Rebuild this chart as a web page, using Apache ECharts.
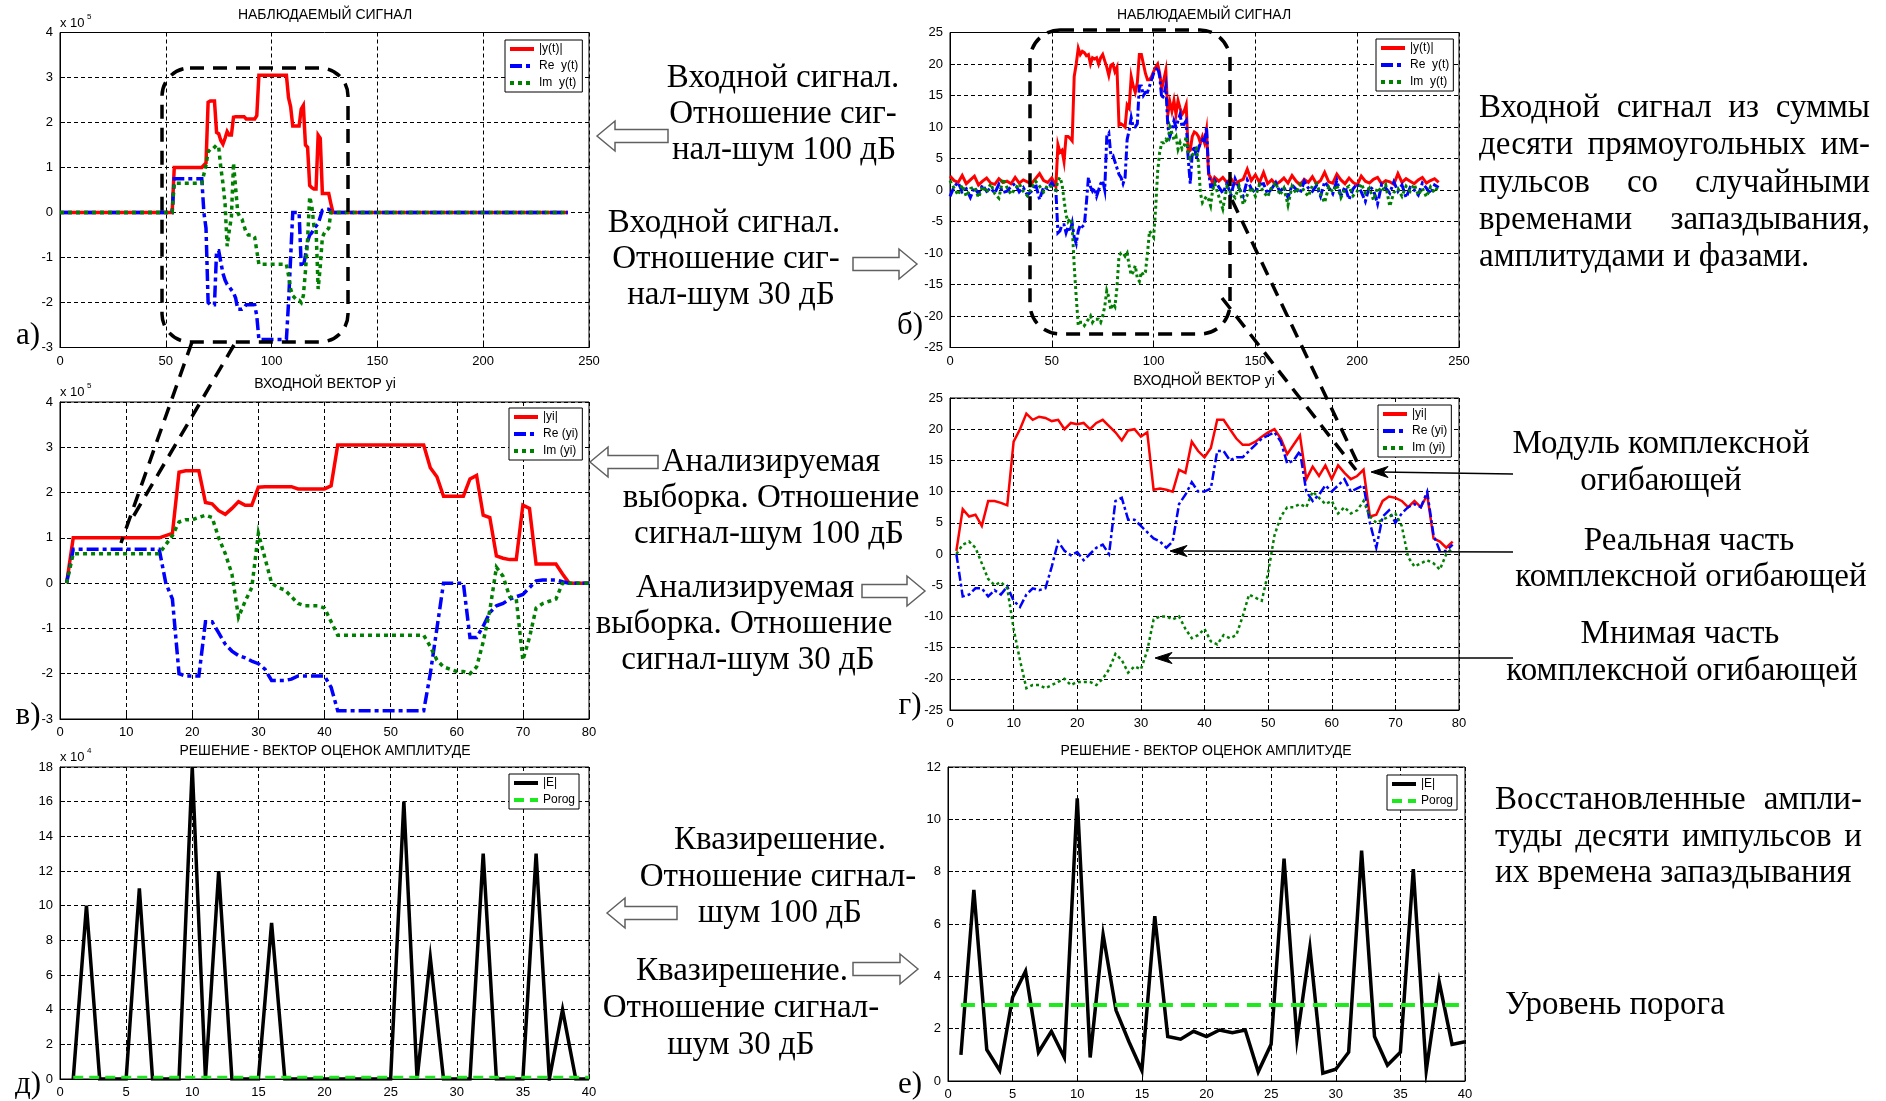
<!DOCTYPE html>
<html>
<head>
<meta charset="utf-8">
<script src="https://cdn.jsdelivr.net/npm/echarts/dist/echarts.min.js"></script>
<style>
  html, body { margin: 0; padding: 0; background: #fff; }
  #main { width: 1886px; height: 1101px; }
</style>
</head>
<body>
<div id="main"></div>
<script>
// ---------------- data ----------------
// Analysed window, SNR 100 dB (units of 1e5), samples 1..80
const absY100 = [0, 1.0, 1, 1, 1, 1, 1, 1, 1, 1, 1, 1, 1, 1, 1, 1.05, 1.1, 2.45, 2.48, 2.48,
  2.48, 1.78, 1.75, 1.6, 1.52, 1.65, 1.8, 1.72, 1.72, 2.12, 2.13, 2.13, 2.13, 2.13, 2.13, 2.08, 2.08, 2.08, 2.08, 2.08,
  2.15, 3.05, 3.05, 3.05, 3.05, 3.05, 3.05, 3.05, 3.05, 3.05, 3.05, 3.05, 3.05, 3.05, 3.05, 2.55, 2.35, 1.92, 1.92, 1.92,
  1.92, 2.3, 2.38, 1.5, 1.45, 0.6, 0.55, 0.52, 0.52, 1.72, 1.65, 0.42, 0.42, 0.42, 0.42, 0.2, 0, 0, 0, 0];
const reY100 = [0, 0.75, 0.75, 0.75, 0.75, 0.75, 0.75, 0.75, 0.75, 0.75, 0.75, 0.75, 0.75, 0.75, 0.75, 0.0, -0.35, -2.0, -2.05, -2.05,
  -2.05, -0.85, -0.85, -1.1, -1.35, -1.5, -1.6, -1.65, -1.72, -1.78, -1.9, -2.15, -2.15, -2.15, -2.12, -2.05, -2.05, -2.05, -2.05, -2.05,
  -2.3, -2.82, -2.82, -2.82, -2.82, -2.82, -2.82, -2.82, -2.82, -2.82, -2.82, -2.82, -2.82, -2.82, -2.82, -2.0, -1.0, 0, 0, 0,
  0, -1.2, -1.2, -0.95, -0.65, -0.5, -0.45, -0.35, -0.3, -0.25, -0.1, 0.05, 0.07, 0.07, 0.07, 0.03, 0, 0, 0, 0];
const imY100 = [0, 0.65, 0.65, 0.65, 0.65, 0.65, 0.65, 0.65, 0.65, 0.65, 0.65, 0.65, 0.65, 0.65, 0.65, 0.85, 1.05, 1.35, 1.4, 1.4,
  1.45, 1.5, 1.45, 1.0, 0.65, 0.2, -0.75, -0.4, -0.1, 1.1, 0.55, 0.0, -0.1, -0.15, -0.3, -0.45, -0.5, -0.5, -0.5, -0.55,
  -0.85, -1.15, -1.15, -1.15, -1.15, -1.15, -1.15, -1.15, -1.15, -1.15, -1.15, -1.15, -1.15, -1.15, -1.15, -1.4, -1.7, -1.85, -1.9, -1.95,
  -1.95, -2.0, -1.85, -1.3, -0.6, 0.35, 0.15, -0.3, -0.35, -1.7, -1.2, -0.55, -0.45, -0.4, -0.35, 0, 0, 0, 0, 0];

// Analysed window, SNR 30 dB, samples 1..79
const absY30 = [0.5, 7.2, 6.0, 6.3, 4.5, 8.5, 8.5, 8.2, 7.8, 18, 20, 22.5, 21.5, 22, 21.8, 21.3, 21.5, 20, 21, 20.8,
  21, 20, 21, 21.5, 20.5, 19.5, 18.2, 19.8, 20, 18.8, 19.5, 10.3, 10.5, 10.3, 10, 13.5, 13, 18, 16.5, 15.5,
  17, 21.5, 21.5, 20, 18.5, 17.5, 17.5, 18, 18.8, 19.5, 20, 18.5, 16, 17.5, 19, 12, 14, 12.5, 14.2, 12,
  14.2, 13, 12, 12.5, 13.5, 6, 6.3, 8.5, 9.2, 9, 8.5, 7.5, 8.5, 7.5, 9.5, 2.5, 2, 1, 2];
const reY30 = [0, -6.8, -6.5, -5.5, -5.5, -6.8, -5.8, -6.5, -5.2, -7.5, -8.5, -6.5, -5.5, -5.8, -5.5, -2, 2, 0.5, -0.2, 0.3,
  -1, 0, 1, 1.5, 0, 8.5, 9, 5.5, 5.5, 4.5, 3.5, 2.5, 2, 1, 2, 8, 9.5, 11.5, 10, 10,
  10.5, 16.5, 16.5, 15, 15.5, 15.5, 16.5, 17.5, 18.5, 19, 19.5, 18, 14.5, 15, 16.5, 10, 8.5, 9.5, 11, 10,
  11, 12, 10, 10.5, 11, 5, 1, 6, 7, 5, 6.5, 7.5, 8, 7.5, 10, 3, 0.5, 0.5, 1.5];
const imY30 = [0, 1.5, 2, 1, -1.5, -4, -5, -4.5, -5.5, -12, -17, -21.5, -21, -21, -21.5, -21, -20.5, -20, -21, -20.5,
  -20.5, -20.5, -21, -20, -18.5, -16, -17, -19, -18, -18.5, -15.5, -10.5, -10, -10, -10.5, -10, -12, -13.5, -13, -12,
  -14, -14.5, -13, -13.5, -13, -10, -6.5, -7, -7.5, -3, 3, 6, 7.5, 7.5, 8, 7.5, 10, 9, 8, 8.5,
  6.5, 7.5, 6.5, 7, 8.5, 6, 5, 5.5, 6, 6.5, 4.5, -0.5, -2, -1.5, -1, -1.5, -2.5, 0, 1];

// Observation interval and where the analysed window sits in it
const OBS_START = 0;
const OBS_END = 240;
const QUIET_LEVEL = 0;
const WIN_START_100 = 52;
const WIN_START_30 = 51;

// Noise of the 30 dB observation outside the window (every 2nd sample)
const NOISE_STEP = 2;
const NOISE_PRE_T0 = 0;
const absNoisePre = [2.2, 1.5, 1.2, 2.3, 1.0, 1.6, 2.2, 0.8, 1.4, 1.9, 1.1, 0.9, 1.8, 1.2, 1.4, 1.0, 2.0, 1.1, 1.6, 1.3, 1.0, 1.8, 2.6, 1.5, 1.2, 1.9];
const reNoisePre = [-1.0, 0.5, 1.2, -0.3, 0.2, -1.2, 0.4, -0.6, 0.8, -0.2, 0.3, -0.5, 0.9, -0.4, -0.2, 0.6, 1.0, -0.3, 0.4, -0.8, -0.2, 1.0, -1.5, 0.5, 0.2, 1.2];
const imNoisePre = [1.5, 0.3, -0.8, 0.8, -1.0, 0.2, 0.5, -1.2, 0.6, -0.4, 1.0, -0.6, -1.3, 1.8, 0.4, -0.7, 0.2, 1.0, -0.2, -0.9, 0.3, 1.4, 0.6, -0.3, 0.8, 0.5];
const NOISE_POST_T0 = 132;
const absNoisePost = [1.4, 2.0, 1.2, 1.8, 1.0, 1.4, 1.7, 3.3, 1.5, 2.4, 1.2, 2.8, 1.0, 1.6, 0.9, 1.3, 1.9, 1.1, 2.3, 1.4,
  0.8, 1.7, 1.2, 2.1, 1.0, 1.5, 2.8, 1.3, 1.1, 2.5, 1.6, 1.0, 1.9, 1.2, 0.8, 2.2, 1.4, 1.1, 1.7, 2.0,
  1.0, 1.5, 1.3, 0.9, 2.6, 1.2, 1.8, 1.4, 1.0, 1.6, 2.0, 1.1, 1.5, 1.8, 1.2];
const reNoisePost = [0.5, -0.5, 1.0, -0.8, 1.8, 0.3, -1.0, 1.6, 0.2, -0.4, 0.9, 1.0, -0.6, 0.2, 1.2, -0.3, 0.5, -1.2, 0.8, 0.1,
  -0.5, 1.4, 0.3, -0.2, 0.7, -1.0, 1.3, 0.4, -0.6, 1.5, -0.9, 0.5, -1.5, 0.2, 1.0, -0.3, -1.8, 0.6, 0.0, -2.2,
  0.9, 0.3, -0.5, 1.3, -0.2, 0.8, -1.2, 0.4, 0.0, -0.8, 1.1, 0.3, -0.6, 0.8, 0.4];
const imNoisePost = [-1.0, -3.0, 0.5, -0.5, -1.2, 0.6, -2.3, -0.8, 0.4, -1.0, 0.8, -0.3, -1.1, 0.5, 1.2, -0.8, 0.3, -2.4, 0.6, -0.5,
  0.9, -0.2, -1.0, 0.7, 1.0, -0.6, -2.0, 0.5, -0.3, 0.8, -1.2, 0.2, 0.6, -0.9, -0.2, 1.0, -0.5, 0.3, -1.6, 0.4,
  -0.3, 0.8, -2.6, -0.4, 0.2, -1.0, 0.6, -0.2, 0.9, -0.8, 0.3, -1.1, 0.5, -0.4, 0.8];

// Amplitude estimates |E| over 40 delay bins (д: units of 1e4)
const est100 = [0, 10, 0, 0, 0, 11, 0, 0, 0, 18, 0, 12, 0, 0, 0, 9, 0, 0, 0, 0,
  0, 0, 0, 0, 0, 16, 0, 7, 0, 0, 0, 13, 0, 0, 0, 13, 0, 4, 0, 0];
const est30 = [1.0, 7.3, 1.2, 0.4, 3.2, 4.2, 1.1, 1.9, 0.9, 10.8, 0.9, 5.6, 2.7, 1.5, 0.4, 6.3, 1.7, 1.6, 1.9, 1.7,
  1.95, 1.85, 1.95, 0.35, 1.4, 8.5, 1.6, 5.1, 0.3, 0.45, 1.1, 8.8, 1.7, 0.6, 1.1, 8.1, 0.4, 3.8, 1.4, 1.5];
const POROG_100 = 0.1;
const POROG_30 = 2.9;

// Axis ranges / tick steps
const xTicksObs = { min: 0, max: 250, interval: 50 };
const xTicksWin = { min: 0, max: 80, interval: 10 };
const xTicksBins = { min: 0, max: 40, interval: 5 };
const yTicks100 = { min: -3, max: 4, interval: 1 };
const yTicks30 = { min: -25, max: 25, interval: 5 };
const yTicksE100 = { min: 0, max: 18, interval: 2 };
const yTicksE30 = { min: 0, max: 12, interval: 2 };

// ---------------- series builders ----------------
const RED = '#ff0000', BLUE = '#0000ff', GREEN = '#008000', LIME = '#1ee81e';

const winSeries = vals => vals.map((v, i) => [i + 1, v]);
const obs100 = vals => [[OBS_START, QUIET_LEVEL]]
  .concat(vals.map((v, i) => [WIN_START_100 + i + 1, v]))
  .concat([[OBS_END, QUIET_LEVEL]]);
const obs30 = (pre, win, post) =>
  pre.map((v, i) => [NOISE_PRE_T0 + NOISE_STEP * i, v])
    .concat(win.map((v, i) => [WIN_START_30 + i + 1, v]))
    .concat(post.map((v, i) => [NOISE_POST_T0 + NOISE_STEP * i, v]));
const binSeries = vals => vals.map((v, i) => [i + 1, v]);
const levelSeries = (vals, lvl) => vals.map((v, i) => [i + 1, lvl]);

function line(name, idx, data, color, width, dash) {
  return {
    type: 'line', name, xAxisIndex: idx, yAxisIndex: idx, data,
    symbol: 'none', showSymbol: false, silent: true, animation: false,
    lineStyle: { color, width, type: dash || 'solid', cap: 'butt', join: 'miter' },
    itemStyle: { color }
  };
}

// ---------------- layout ----------------
const grids = [
  { left: 60, top: 32.5, width: 529, height: 315 },   // а
  { left: 950, top: 32.5, width: 509, height: 315 },  // б
  { left: 60, top: 402, width: 529, height: 317 },    // в
  { left: 950, top: 398, width: 509, height: 312 },   // г
  { left: 60, top: 767, width: 529, height: 312 },    // д
  { left: 948, top: 767, width: 517, height: 316 }    // е
].map(g => Object.assign({ show: true, borderColor: '#000', borderWidth: 1, backgroundColor: '#fff', containLabel: false }, g));

const SANS = '"Liberation Sans", Arial, Helvetica, sans-serif';
function axis(idx, ticks) {
  return Object.assign({
    type: 'value', gridIndex: idx,
    axisLine: { show: true, onZero: false, lineStyle: { color: '#000', width: 1 } },
    axisTick: { show: true, inside: true, length: 5, lineStyle: { color: '#000' } },
    axisLabel: { color: '#000', fontSize: 13, fontFamily: SANS, margin: 7, showMinLabel: true, showMaxLabel: true },
    splitLine: { show: true, lineStyle: { color: '#000', width: 1, type: [4, 3] } }
  }, ticks);
}
const xAxes = [xTicksObs, xTicksObs, xTicksWin, xTicksWin, xTicksBins, xTicksBins].map((t, i) => axis(i, t));
const yAxes = [yTicks100, yTicks30, yTicks100, yTicks30, yTicksE100, yTicksE30].map((t, i) => axis(i, t));

const series = [
  line('|y(t)|', 0, obs100(absY100), RED, 3.5),
  line('Re  y(t)', 0, obs100(reY100), BLUE, 3.5, [12, 4, 4, 4]),
  line('Im  y(t)', 0, obs100(imY100), GREEN, 3.5, [4, 4]),
  line('|y(t)|', 1, obs30(absNoisePre, absY30, absNoisePost), RED, 3),
  line('Re  y(t)', 1, obs30(reNoisePre, reY30, reNoisePost), BLUE, 3, [9, 3, 3, 3]),
  line('Im  y(t)', 1, obs30(imNoisePre, imY30, imNoisePost), GREEN, 3, [3, 3]),
  line('|yi|', 2, winSeries(absY100), RED, 3.5),
  line('Re (yi)', 2, winSeries(reY100), BLUE, 3.5, [12, 4, 4, 4]),
  line('Im (yi)', 2, winSeries(imY100), GREEN, 3.5, [4, 4]),
  line('|yi|', 3, winSeries(absY30), RED, 2.5),
  line('Re (yi)', 3, winSeries(reY30), BLUE, 2.5, [9, 3, 3, 3]),
  line('Im (yi)', 3, winSeries(imY30), GREEN, 2.5, [3, 3]),
  line('|E|', 4, binSeries(est100), '#000', 3.5),
  line('Porog', 4, levelSeries(est100, POROG_100), LIME, 3, [10, 6]),
  line('|E|', 5, binSeries(est30), '#000', 3.5),
  line('Porog', 5, levelSeries(est30, POROG_30), LIME, 4, [14, 8])
];

function legend(names, left, top) {
  return {
    data: names, left, top, orient: 'vertical', selectedMode: false,
    itemWidth: 24, itemHeight: 10, itemGap: 5, padding: [3, 4, 3, 3],
    borderColor: '#000', borderWidth: 1, backgroundColor: '#fff',
    // line sample only, no marker in the middle
    itemStyle: { color: 'rgba(0,0,0,0)', borderColor: 'rgba(0,0,0,0)', borderWidth: 0, opacity: 0 },
    lineStyle: { width: 4 },
    textStyle: { color: '#000', fontSize: 12, fontFamily: SANS }
  };
}
const legends = [
  legend(['|y(t)|', 'Re  y(t)', 'Im  y(t)'], 505, 40),
  legend(['|y(t)|', 'Re  y(t)', 'Im  y(t)'], 1376, 39),
  legend(['|yi|', 'Re (yi)', 'Im (yi)'], 509, 408),
  legend(['|yi|', 'Re (yi)', 'Im (yi)'], 1378, 405),
  legend(['|E|', 'Porog'], 509, 774),
  legend(['|E|', 'Porog'], 1387, 775)
];

function title(text, cx, top) {
  return { text, left: cx, top, textAlign: 'center', padding: 0,
    textStyle: { color: '#000', fontSize: 14, fontWeight: 'normal', fontFamily: SANS } };
}
const titles = [
  title('НАБЛЮДАЕМЫЙ СИГНАЛ', 325, 8),
  title('НАБЛЮДАЕМЫЙ СИГНАЛ', 1204, 8),
  title('ВХОДНОЙ ВЕКТОР yi', 325, 377),
  title('ВХОДНОЙ ВЕКТОР yi', 1204, 374),
  title('РЕШЕНИЕ - ВЕКТОР ОЦЕНОК АМПЛИТУДЕ', 325, 744),
  title('РЕШЕНИЕ - ВЕКТОР ОЦЕНОК АМПЛИТУДЕ', 1206, 744)
];

// ---------------- annotations ----------------
const SERIF = '33px "Liberation Serif", "Times New Roman", serif';
const g = [];
function txt(text, x, y, align, font) {
  g.push({ type: 'text', z: 100, silent: true,
    style: { text, x, y, font: font || SERIF, fill: '#000',
      textAlign: align || 'center', textVerticalAlign: 'middle',
      align: align || 'center', verticalAlign: 'middle' } });
}
const mctx = document.createElement('canvas').getContext('2d');
function justified(text, x0, x1, y) {
  mctx.font = SERIF;
  const words = text.split(' ');
  const ws = words.map(w => mctx.measureText(w).width);
  const gap = (x1 - x0 - ws.reduce((a, b) => a + b, 0)) / (words.length - 1);
  let x = x0;
  words.forEach((w, i) => { txt(w, x, y, 'left'); x += ws[i] + gap; });
}

// dashed frames and leader lines
const DASH = { stroke: '#000', lineWidth: 3.5, lineDash: [14, 9], fill: null };
g.push({ type: 'rect', z: 60, silent: true, shape: { x: 162, y: 68, width: 186, height: 274, r: 28 }, style: DASH });
g.push({ type: 'rect', z: 60, silent: true, shape: { x: 1030, y: 30, width: 200, height: 304, r: 30 }, style: DASH });
[[192, 342, 121, 543], [234, 345, 133, 517], [1232, 200, 1360, 468], [1222, 298, 1356, 470]].forEach(l =>
  g.push({ type: 'line', z: 60, silent: true, shape: { x1: l[0], y1: l[1], x2: l[2], y2: l[3] }, style: DASH }));

// hollow block arrows
function blockArrow(tipX, tipY, tailX) {
  const dir = tailX < tipX ? 1 : -1;
  const headLen = 18, headH = 15, shaftH = 6.5;
  const bx = tipX - dir * headLen;
  g.push({ type: 'polygon', z: 90, silent: true,
    shape: { points: [[tipX, tipY], [bx, tipY - headH], [bx, tipY - shaftH], [tailX, tipY - shaftH],
      [tailX, tipY + shaftH], [bx, tipY + shaftH], [bx, tipY + headH]] },
    style: { fill: '#fff', stroke: '#606060', lineWidth: 1.5 } });
}
blockArrow(597, 136, 668);
blockArrow(917, 264, 853);
blockArrow(590, 462, 658);
blockArrow(925, 591, 862);
blockArrow(607, 913, 677);
blockArrow(918, 969, 853);

// thin pointer arrows
function pointer(x0, y0, tx, ty) {
  g.push({ type: 'line', z: 90, silent: true, shape: { x1: x0, y1: y0, x2: tx + 10, y2: ty },
    style: { stroke: '#000', lineWidth: 1.6 } });
  g.push({ type: 'polygon', z: 91, silent: true,
    shape: { points: [[tx, ty], [tx + 17, ty - 5.5], [tx + 12, ty], [tx + 17, ty + 5.5]] },
    style: { fill: '#000', stroke: '#000', lineWidth: 1 } });
}
pointer(1513, 474, 1371, 472);
pointer(1513, 552, 1170, 551);
pointer(1513, 658, 1155, 658);

// explanatory text
txt('Входной сигнал.', 783, 78);
txt('Отношение сиг-', 783, 114);
txt('нал-шум 100 дБ', 784, 150);
txt('Входной сигнал.', 724, 223);
txt('Отношение сиг-', 726, 259);
txt('нал-шум 30 дБ', 731, 295);

txt('Анализируемая', 771, 462);
txt('выборка. Отношение', 771, 498);
txt('сигнал-шум 100 дБ', 769, 534);
txt('Анализируемая', 745, 588);
txt('выборка. Отношение', 744, 624);
txt('сигнал-шум 30 дБ', 748, 660);

txt('Квазирешение.', 780, 840);
txt('Отношение сигнал-', 778, 877);
txt('шум 100 дБ', 780, 913);
txt('Квазирешение.', 742, 971);
txt('Отношение сигнал-', 741, 1008);
txt('шум 30 дБ', 741, 1045);

justified('Входной сигнал из суммы', 1479, 1870, 108);
justified('десяти прямоугольных им-', 1479, 1870, 145);
justified('пульсов со случайными', 1479, 1870, 183);
justified('временами запаздывания,', 1479, 1870, 220);
txt('амплитудами и фазами.', 1479, 257, 'left');

txt('Модуль комплексной', 1661, 444);
txt('огибающей', 1661, 481);
txt('Реальная часть', 1689, 541);
txt('комплексной огибающей', 1691, 577);
txt('Мнимая часть', 1680, 634);
txt('комплексной огибающей', 1682, 671);

justified('Восстановленные ампли-', 1495, 1862, 800);
justified('туды десяти импульсов и', 1495, 1862, 837);
txt('их времена запаздывания', 1495, 873, 'left');
txt('Уровень порога', 1505, 1005, 'left');

// panel letters
const LETTER = '31px "Liberation Serif", "Times New Roman", serif';
txt('а)', 28, 336, 'center', LETTER);
txt('б)', 910, 326, 'center', LETTER);
txt('в)', 28, 716, 'center', LETTER);
txt('г)', 910, 706, 'center', LETTER);
txt('д)', 28, 1085, 'center', LETTER);
txt('е)', 910, 1085, 'center', LETTER);

// axis multipliers
function multiplier(x, y, p) {
  txt('x 10', x, y, 'left', '13px ' + SANS);
  txt(p, x + 27, y - 6, 'left', '8px ' + SANS);
}
multiplier(60, 23, '5');
multiplier(60, 392, '5');
multiplier(60, 757, '4');

// ---------------- chart ----------------
const chart = echarts.init(document.getElementById('main'), null, { renderer: 'canvas' });
chart.setOption({
  animation: false,
  backgroundColor: '#fff',
  title: titles,
  legend: legends,
  grid: grids,
  xAxis: xAxes,
  yAxis: yAxes,
  series,
  graphic: { elements: g }
});
</script>
</body>
</html>
